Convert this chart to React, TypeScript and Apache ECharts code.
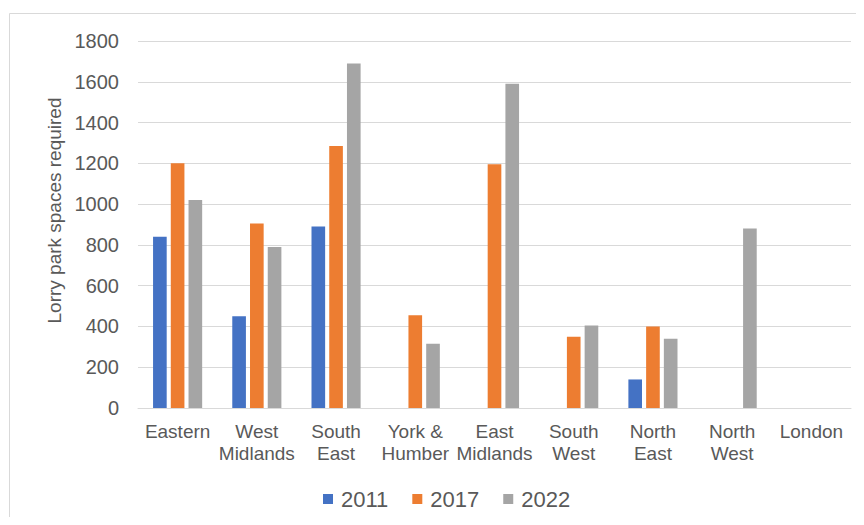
import React, { useEffect, useRef } from "react";
import * as echarts from "echarts";

const categories = [
  "Eastern",
  "West\nMidlands",
  "South\nEast",
  "York &\nHumber",
  "East\nMidlands",
  "South\nWest",
  "North\nEast",
  "North\nWest",
  "London",
];
const values2011 = [840, 450, 890, 0, 0, 0, 140, 0, 0];
const values2017 = [1200, 905, 1285, 455, 1195, 350, 400, 0, 0];
const values2022 = [1020, 790, 1690, 315, 1590, 405, 340, 880, 0];
const seriesNames = ["2011", "2017", "2022"];
const colors = ["#4472C4", "#ED7D31", "#A5A5A5"];
const yTicks = { min: 0, max: 1800, interval: 200 };

const FONT = "'Liberation Sans', Arial, sans-serif";
const TEXT = "#595959";

export default function App() {
  const ref = useRef<HTMLDivElement>(null);
  useEffect(() => {
    if (!ref.current) return;
    const chart = echarts.init(ref.current, undefined, { renderer: "svg" });
    const data = [values2011, values2017, values2022];
    chart.setOption({
      animation: false,
      backgroundColor: "#ffffff",
      color: colors,
      textStyle: { fontFamily: FONT, color: TEXT },
      grid: { left: 138, right: 13, top: 41, bottom: 117, containLabel: false },
      graphic: [
        {
          type: "rect",
          shape: { x: 9.5, y: 13.5, width: 900, height: 600 },
          style: { fill: "none", stroke: "#d9d9d9", lineWidth: 1 },
          silent: true,
        },
      ],
      legend: {
        left: 323,
        top: 488,
        padding: 0,
        itemWidth: 10,
        itemHeight: 10,
        itemGap: 24,
        icon: "rect",
        textStyle: { fontSize: 22, color: TEXT, fontFamily: FONT, padding: [0, 0, 0, 3] },
        data: seriesNames,
      },
      xAxis: {
        type: "category",
        data: categories,
        axisLine: { show: true, lineStyle: { color: "#d9d9d9", width: 1 } },
        axisTick: { show: false },
        axisLabel: {
          interval: 0,
          margin: 12,
          fontSize: 19,
          lineHeight: 22,
          color: TEXT,
          fontFamily: FONT,
        },
      },
      yAxis: {
        type: "value",
        min: yTicks.min,
        max: yTicks.max,
        interval: yTicks.interval,
        name: "Lorry park spaces required",
        nameLocation: "middle",
        nameGap: 74,
        nameRotate: 90,
        nameTextStyle: { fontSize: 19, color: TEXT, fontFamily: FONT, padding: [0, 0, 0, 28] },
        axisLine: { show: false },
        axisTick: { show: false },
        axisLabel: {
          fontSize: 20,
          color: TEXT,
          fontFamily: FONT,
          margin: 19,
          formatter: (v: number) => String(v),
        },
        splitLine: { lineStyle: { color: "#d9d9d9", width: 1 } },
      },
      series: seriesNames.map((name, i) => ({
        name,
        type: "bar",
        data: data[i],
        barGap: "30%",
        barCategoryGap: "38%",
        itemStyle: { color: colors[i] },
      })),
    });
    return () => chart.dispose();
  }, []);
  return <div ref={ref} style={{ width: 864, height: 525, margin: -8 }} />;
}
